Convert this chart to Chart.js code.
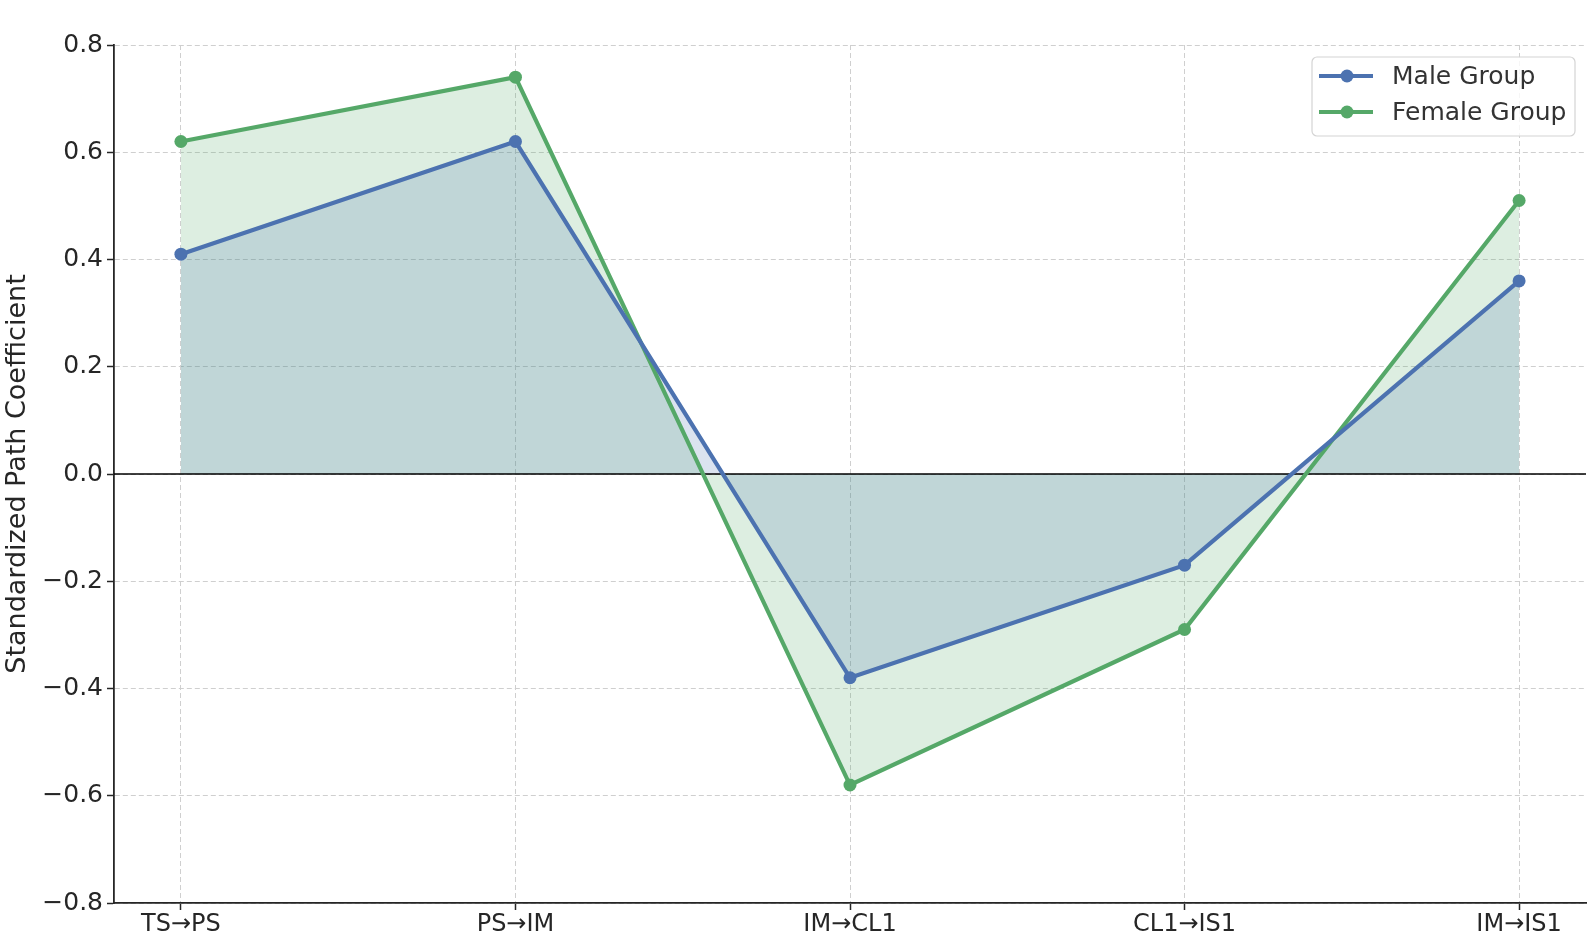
<!DOCTYPE html>
<html>
<head>
<meta charset="utf-8">
<script src="https://cdn.jsdelivr.net/npm/chart.js@4.4.1/dist/chart.umd.min.js"></script>
<style>
  html, body { margin: 0; padding: 0; background: #fff; }
  #wrap { width: 1594px; height: 936px; position: relative; }
</style>
</head>
<body>
<div id="wrap"><canvas id="chart"></canvas></div>
<script>
// Path labels and standardized coefficients per group
const categories = ['TS→PS', 'PS→IM', 'IM→CL1', 'CL1→IS1', 'IM→IS1'];
const maleValues = [0.41, 0.62, -0.38, -0.17, 0.36];
const femaleValues = [0.62, 0.74, -0.58, -0.29, 0.51];
const yTicks = [-0.8, -0.6, -0.4, -0.2, 0.0, 0.2, 0.4, 0.6, 0.8];

const BLUE = '#4c72b0';
const GREEN = '#55a868';
const INK = '#262626';

Chart.defaults.font.family = '"DejaVu Sans", sans-serif';
Chart.defaults.color = INK;

const toPoints = vals => vals.map((v, i) => ({ x: i, y: v }));

// zero line + legend box drawn on the canvas
const extras = {
    id: 'extras',
    beforeDatasetsDraw(chart) {
        const { ctx, chartArea, scales } = chart;
        const y0 = scales.y.getPixelForValue(0);
        ctx.save();
        ctx.strokeStyle = '#000';
        ctx.lineWidth = 1.6;
        ctx.beginPath();
        ctx.moveTo(chartArea.left, y0);
        ctx.lineTo(chartArea.right, y0);
        ctx.stroke();
        ctx.restore();
    },
    afterDraw(chart) {
        const ctx = chart.ctx;
        const bx = 1312, by = 57, bw = 263, bh = 79;
        ctx.save();
        ctx.fillStyle = 'rgba(255,255,255,0.8)';
        ctx.strokeStyle = '#d4d4d4';
        ctx.lineWidth = 1.2;
        ctx.beginPath();
        ctx.roundRect(bx, by, bw, bh, 5);
        ctx.fill();
        ctx.stroke();

        const rows = [['Male Group', BLUE, 76], ['Female Group', GREEN, 112]];
        ctx.font = '25px "DejaVu Sans"';
        ctx.textBaseline = 'middle';
        rows.forEach(([label, col, y]) => {
            ctx.strokeStyle = col;
            ctx.lineWidth = 4.2;
            ctx.beginPath();
            ctx.moveTo(1319, y);
            ctx.lineTo(1373, y);
            ctx.stroke();
            ctx.fillStyle = col;
            ctx.beginPath();
            ctx.arc(1347, y, 6.5, 0, Math.PI * 2);
            ctx.fill();
            ctx.fillStyle = '#333';
            ctx.fillText(label, 1392, y + 1);
        });
        ctx.restore();
    }
};

const ctx = document.getElementById('chart').getContext('2d');
new Chart(ctx, {
    type: 'line',
    data: {
        datasets: [
            {
                label: 'Male Group',
                data: toPoints(maleValues),
                borderColor: BLUE,
                backgroundColor: 'rgba(76,114,176,0.2)',
                pointBackgroundColor: BLUE,
                pointBorderColor: BLUE,
                borderWidth: 4.2,
                pointRadius: 6.5,
                pointBorderWidth: 0,
                tension: 0,
                fill: 'origin'
            },
            {
                label: 'Female Group',
                data: toPoints(femaleValues),
                borderColor: GREEN,
                backgroundColor: 'rgba(85,168,104,0.2)',
                pointBackgroundColor: GREEN,
                pointBorderColor: GREEN,
                borderWidth: 4.2,
                pointRadius: 6.5,
                pointBorderWidth: 0,
                tension: 0,
                fill: 'origin'
            }
        ]
    },
    options: {
        responsive: true,
        maintainAspectRatio: false,
        animation: false,
        layout: { padding: { top: 45, right: 8, bottom: 0, left: 0 } },
        plugins: {
            legend: { display: false },
            tooltip: { enabled: false },
            filler: { drawTime: 'beforeDatasetsDraw' }
        },
        scales: {
            x: {
                type: 'linear',
                min: -0.2,
                max: 4.2,
                afterBuildTicks: s => { s.ticks = categories.map((c, i) => ({ value: i })); },
                afterFit: s => { s.height = 33; },
                ticks: {
                    callback: v => categories[v],
                    font: { size: 24 },
                    color: INK,
                    padding: 0,
                    maxRotation: 0,
                    autoSkip: false
                },
                grid: {
                    color: '#cfcfcf',
                    lineWidth: 1,
                    tickLength: 7,
                    tickColor: INK,
                    tickWidth: 1.5
                },
                border: { display: true, color: INK, width: 1.8, dash: [5, 3] }
            },
            y: {
                min: -0.8,
                max: 0.8,
                afterBuildTicks: s => { s.ticks = yTicks.map(v => ({ value: v })); },
                afterFit: s => { s.width = 114; },
                ticks: {
                    callback: v => v.toFixed(1).replace('-', '\u2212'),
                    font: { size: 25 },
                    color: INK,
                    padding: 4
                },
                grid: {
                    color: '#cfcfcf',
                    lineWidth: 1,
                    tickLength: 7,
                    tickColor: INK,
                    tickWidth: 1.5
                },
                border: { display: true, color: INK, width: 1.8, dash: [5, 3] },
                title: {
                    display: true,
                    text: 'Standardized Path Coefficient',
                    font: { size: 27 },
                    color: INK,
                    padding: { top: 2, bottom: 4 }
                }
            }
        }
    },
    plugins: [extras]
});
</script>
</body>
</html>
